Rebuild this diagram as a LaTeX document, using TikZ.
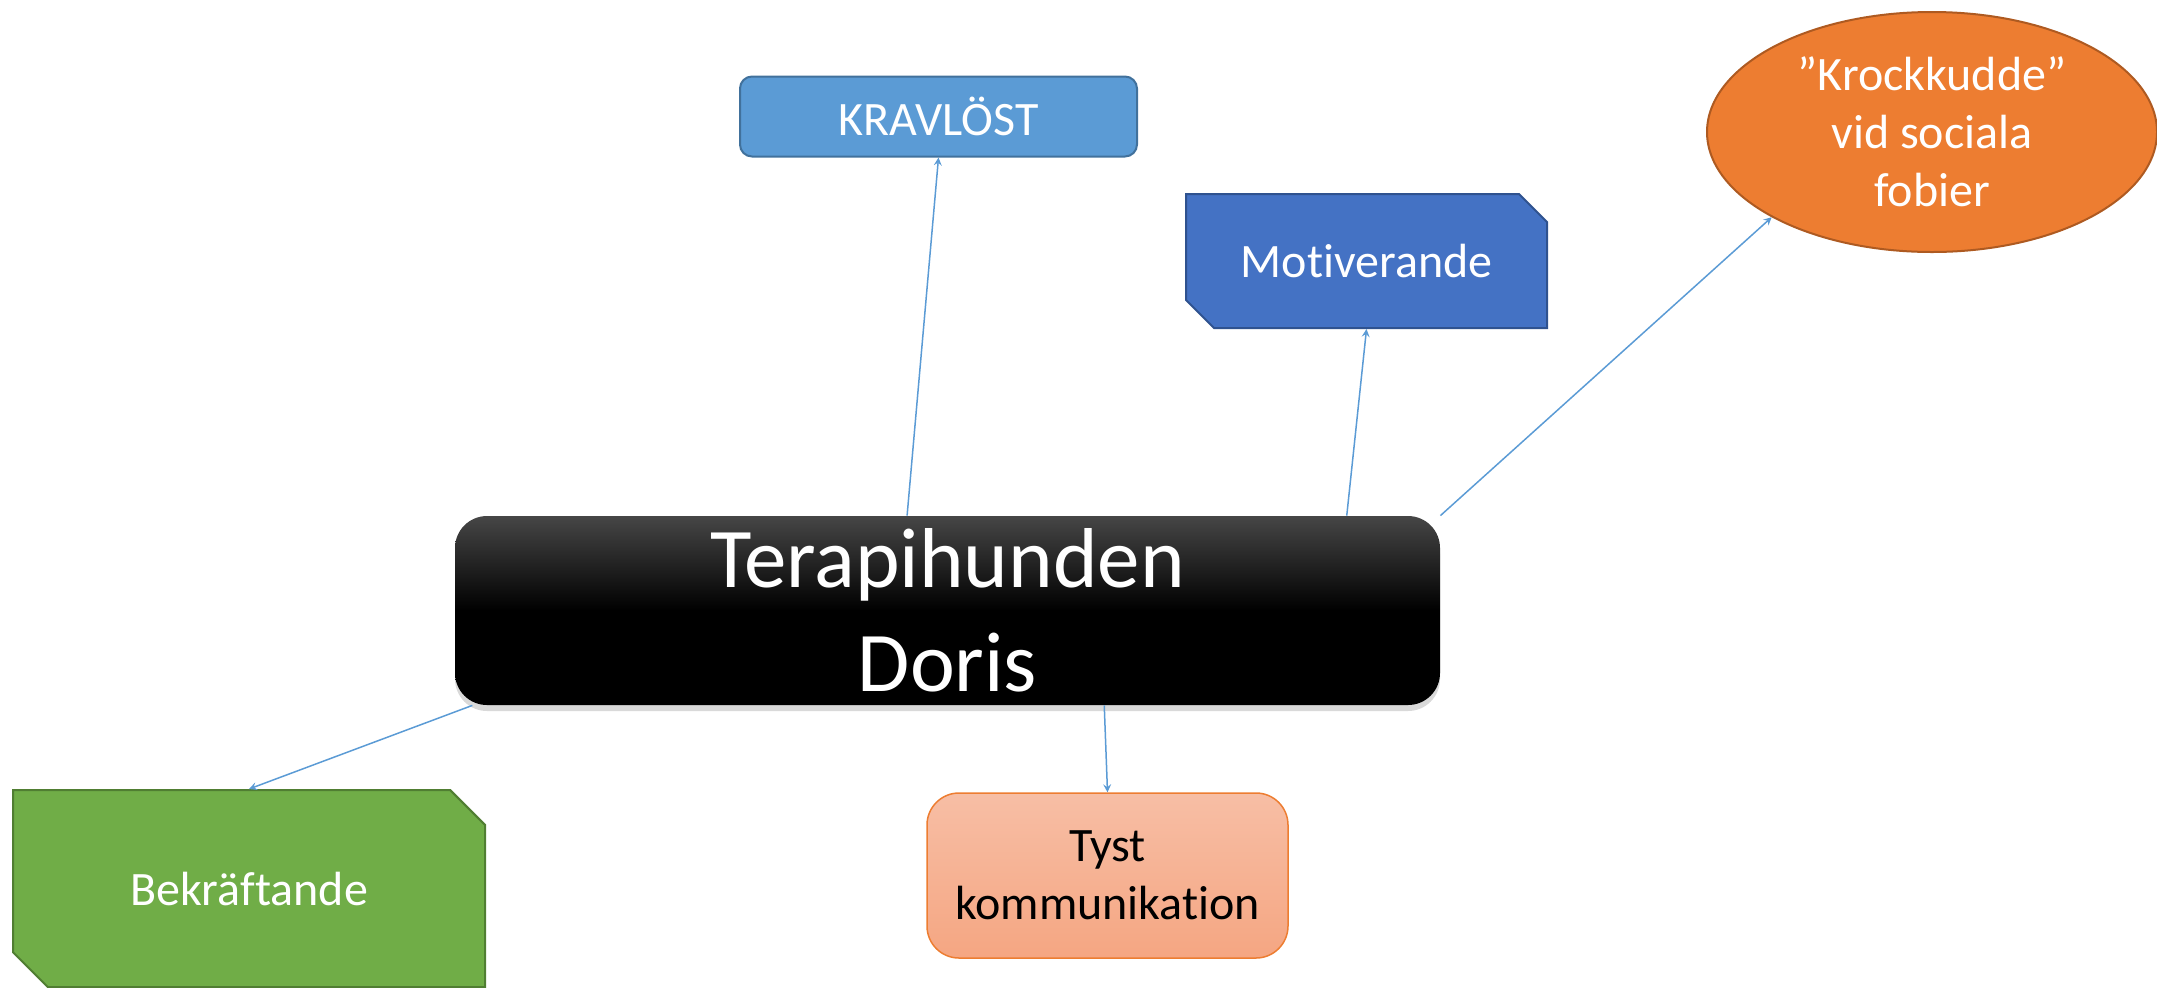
\documentclass[tikz,border=0pt]{standalone}
\usepackage{fontspec}
\setmainfont[Ligatures=NoCommon]{Carlito}
\usetikzlibrary{arrows}
\usetikzlibrary{calc}
\usetikzlibrary{positioning}
\usetikzlibrary{shapes.geometric}
\usetikzlibrary{shapes.misc}
\usetikzlibrary{shadows}
\definecolor{linkblue}{HTML}{5B9BD5}
\definecolor{kravfill}{HTML}{5B9BD5}
\definecolor{kravline}{HTML}{41719C}
\definecolor{motivfill}{HTML}{4472C4}
\definecolor{motivline}{HTML}{2F528F}
\definecolor{krockfill}{HTML}{ED7D31}
\definecolor{krockline}{HTML}{AE5A21}
\definecolor{bekrfill}{HTML}{70AD47}
\definecolor{bekrline}{HTML}{507E32}
\definecolor{tysttop}{HTML}{F7BEA5}
\definecolor{tystbottom}{HTML}{F5A682}
\definecolor{tystline}{HTML}{ED7D31}
\definecolor{hubtop}{HTML}{464646}
\tikzset{>=stealth}

\begin{document}
\begin{tikzpicture}[
        x=0.5pt, y=-0.5pt,
        every node/.style={inner sep=0pt,align=center,text=white,
            font=\fontsize{24}{29}\selectfont},
        link/.style={draw=linkblue,line width=0.75pt,->},
        snipbox/.style={chamfered rectangle,
            chamfered rectangle corners={north east,south west},
            line width=1pt},
        hubbox/.style={rounded corners=16pt,minimum width=492.5pt,minimum height=94.5pt,
            top color=hubtop,bottom color=black,middle color=black,
            drop shadow={shadow xshift=0pt,shadow yshift=-3pt,opacity=.3},
            font=\fontsize{42.5}{52}\selectfont}
    ]
    \useasboundingbox (0,0) rectangle (2157,987);

    \node[hubbox] (hub) at (947.5,610.5) {Terapihunden\\Doris};

    \node[rounded corners=6pt,minimum width=198.5pt,minimum height=40pt,
        fill=kravfill,draw=kravline,line width=1pt] (kravlost) at (938.5,116.5) {KRAVLÖST};
    \node[snipbox,minimum width=180.5pt,minimum height=67pt,
        chamfered rectangle xsep=7pt,chamfered rectangle ysep=7pt,
        fill=motivfill,draw=motivline] (motiv) at (1366.5,261) {Motiverande};
    \node[ellipse,minimum width=225pt,minimum height=120pt,
        fill=krockfill,draw=krockline,line width=1pt] (krock) at (1932,132)
        {”Krockkudde”\\vid sociala\\fobier};
    \node[snipbox,minimum width=236pt,minimum height=98.5pt,
        chamfered rectangle xsep=9pt,chamfered rectangle ysep=9pt,
        fill=bekrfill,draw=bekrline] (bekr) at (249,888.5) {Bekräftande};
    \node[rounded corners=16pt,minimum width=180.5pt,minimum height=82.5pt,
        top color=tysttop,bottom color=tystbottom,draw=tystline,line width=0.75pt,
        text=black] (tyst) at (1107.5,875.5) {Tyst\\kommunikation};

    % connectors from the hub
    \draw[link] ($(hub.north west)!0.459!(hub.north east)$) -- (kravlost.south);
    \draw[link] ($(hub.north west)!0.905!(hub.north east)$) -- (motiv.south);
    \draw[link] (hub.north east) -- (krock.208);
    \draw[link] ($(hub.south west)!0.018!(hub.south east)$) -- (bekr.north);
    \draw[link] ($(hub.south west)!0.659!(hub.south east)$) -- (tyst.north);
\end{tikzpicture}
\end{document}
